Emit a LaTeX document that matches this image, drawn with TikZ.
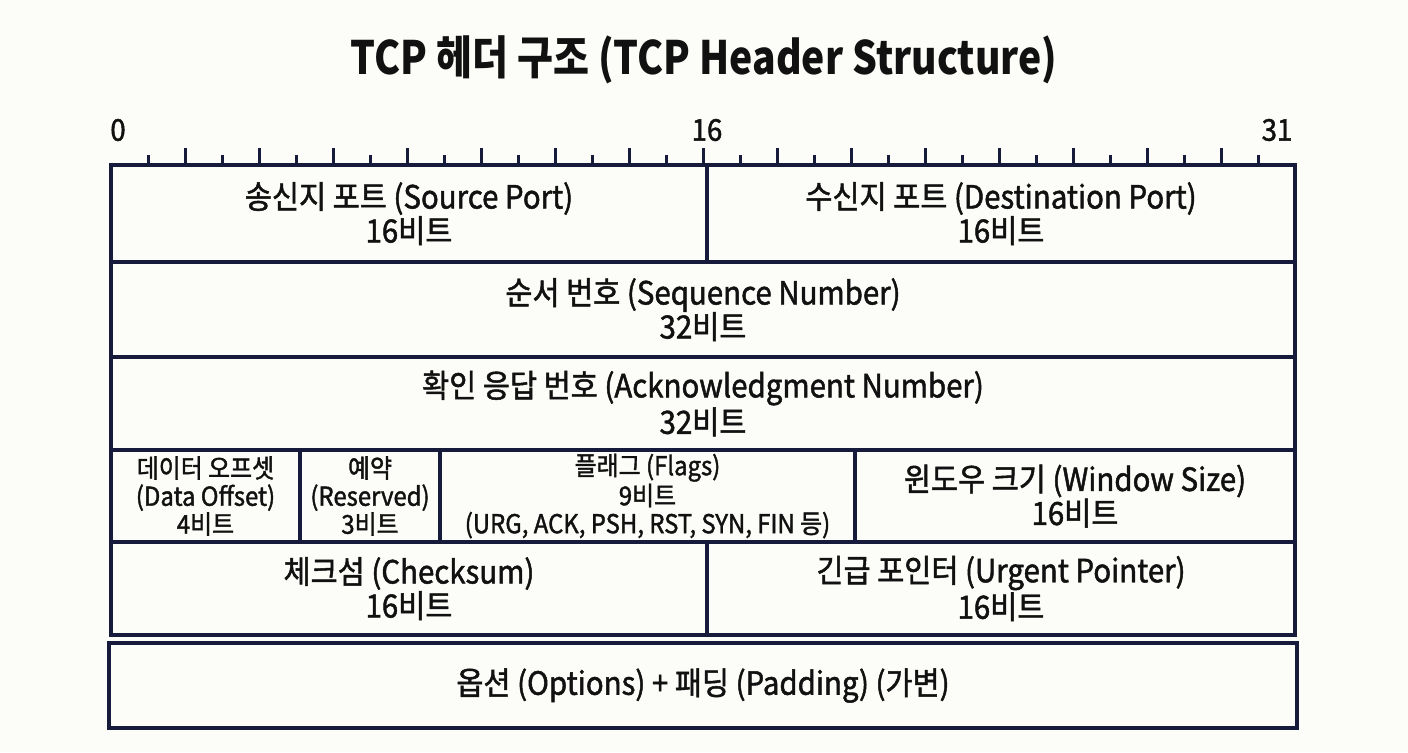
\documentclass[tikz,border=0pt]{standalone}
\usepackage{fontspec}
\setmainfont{Noto Sans CJK KR}[FakeStretch=0.92, FakeBold=1.5]
\newfontfamily\titlefont{Noto Sans CJK KR}[FakeStretch=0.85]
\usetikzlibrary{positioning}
\definecolor{inkline}{HTML}{161B3B}
\definecolor{inktext}{HTML}{111111}
\definecolor{paper}{HTML}{FCFCF8}
\begin{document}
\begin{tikzpicture}[x=0.5pt, y=-0.5pt,
	field/.style={draw=inkline, line width=2pt, anchor=north west, inner sep=0pt, outer sep=0pt, align=center, text=inktext, font=\fontsize{16}{17}\selectfont},
	smallfield/.style={field, font=\fontsize{13}{14}\selectfont},
	bitlabel/.style={text=inktext, font=\fontsize{15}{18}\selectfont}]
	\fill[paper] (0,0) rectangle (1408,752);
	\useasboundingbox (0,0) rectangle (1408,752);
	\node[text=inktext, font=\titlefont\fontsize{23}{28}\selectfont\bfseries] (title) at (704,60) {TCP 헤더 구조 (TCP Header Structure)};
	% ruler
	\node[bitlabel] (b0) at (118,130) {0};
	\node[bitlabel] (b16) at (707,130) {16};
	\node[bitlabel] (b31) at (1277,130) {31};
	\foreach \b in {2,4,...,30} \draw[inkline, line width=1.5pt] (111+37*\b,165) -- ++(0,-17);
	\foreach \b in {1,3,...,31} \draw[inkline, line width=1.5pt] (111+37*\b,165) -- ++(0,-10);
	% header rows
	\node[field, minimum width=298pt, minimum height=48.5pt] (srcport) at (111,165) {송신지 포트 (Source Port)\\16비트};
	\node[field, minimum width=294pt, minimum height=48.5pt] (dstport) at (707,165) {수신지 포트 (Destination Port)\\16비트};
	\node[field, minimum width=592pt, minimum height=47.5pt] (seqnum) at (111,262) {순서 번호 (Sequence Number)\\32비트};
	\node[field, minimum width=592pt, minimum height=46.5pt] (acknum) at (111,357) {확인 응답 번호 (Acknowledgment Number)\\32비트};
	\node[smallfield, minimum width=94.5pt, minimum height=46pt] (offset) at (111,450) {데이터 오프셋\\(Data Offset)\\4비트};
	\node[smallfield, minimum width=70pt, minimum height=46pt] (reserved) at (300,450) {예약\\(Reserved)\\3비트};
	\node[smallfield, minimum width=207.5pt, minimum height=46pt] (flags) at (440,450) {플래그 (Flags)\\9비트\\(URG, ACK, PSH, RST, SYN, FIN 등)};
	\node[field, minimum width=220pt, minimum height=46pt] (window) at (855,450) {윈도우 크기 (Window Size)\\16비트};
	\node[field, minimum width=298pt, minimum height=46.5pt] (checksum) at (111,542) {체크섬 (Checksum)\\16비트};
	\node[field, minimum width=294pt, minimum height=46.5pt] (urgent) at (707,542) {긴급 포인터 (Urgent Pointer)\\16비트};
	\node[field, minimum width=594pt, minimum height=42.5pt] (options) at (109,643) {옵션 (Options) + 패딩 (Padding) (가변)};
\end{tikzpicture}
\end{document}
